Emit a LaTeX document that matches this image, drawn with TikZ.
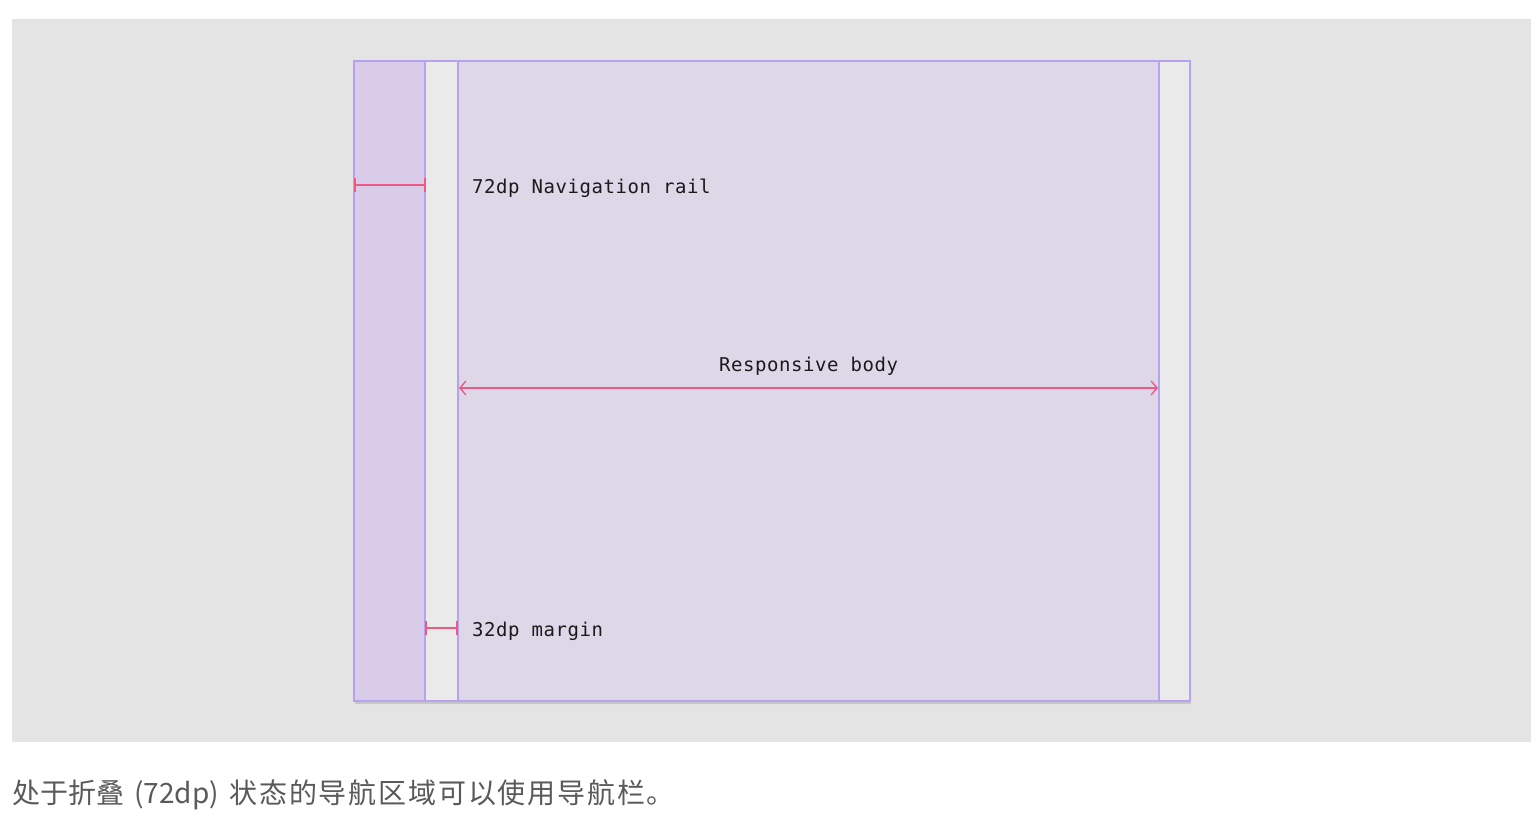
\documentclass[tikz,border=0pt]{standalone}
\usepackage{fontspec}
\usetikzlibrary{arrows.meta}
\newfontfamily\monofnt{DejaVu Sans Mono}[LetterSpace=3]
\newfontfamily\cjkfnt{Noto Sans CJK SC}
\newfontfamily\cjkwide{Noto Sans CJK SC}[LetterSpace=6.5]
\definecolor{panel}{HTML}{E4E4E4}
\definecolor{railc}{HTML}{D8CCE9}
\definecolor{bodyc}{HTML}{DED7E8}
\definecolor{marginc}{HTML}{EAEAEA}
\definecolor{linec}{HTML}{B7A2F0}
\definecolor{pinkc}{HTML}{EC5A86}
\definecolor{txt}{HTML}{1A1A1A}
\definecolor{captc}{HTML}{5A5A5A}
\tikzset{
  dim/.style={draw=pinkc, line width=1.6pt},
  lbl/.style={font=\monofnt\fontsize{19}{21}\selectfont, text=txt, inner sep=0pt},
  guide/.style={draw=linec, line width=1.3pt}
}
\begin{document}
\begin{tikzpicture}[x=1pt,y=-1pt]
\useasboundingbox[fill=white] (0,0) rectangle (1536,818);
\fill[panel] (12,19) rectangle (1531,742);
% shadow
\fill[black!22] (355,701) rectangle (1191,703.5);
\fill[black!11] (355,703.5) rectangle (1191,706);
% regions
\fill[railc] (354,61) rectangle (425,701);
\fill[marginc] (425,61) rectangle (458,701);
\fill[bodyc] (458,61) rectangle (1159,701);
\fill[marginc] (1159,61) rectangle (1190,701);
\draw[guide] (425,61) -- (425,701);
\draw[guide] (458,61) -- (458,701);
\draw[guide] (1159,61) -- (1159,701);
\draw[guide] (354,61) rectangle (1190,701);
% nav rail dimension
\coordinate (ra) at (355,185);
\coordinate (rb) at (425,185);
\draw[dim] (ra) -- (rb);
\draw[dim] ([yshift=-7]ra) -- ([yshift=7]ra);
\draw[dim] ([yshift=-7]rb) -- ([yshift=7]rb);
\node[lbl, anchor=west] (navl) at (472,188) {72dp Navigation rail};
% responsive body
\coordinate (ba) at (459,388);
\coordinate (bb) at (1158,388);
\draw[dim, line width=1.4pt, {Straight Barb[length=6pt,width=14pt]}-{Straight Barb[length=6pt,width=14pt]}] (ba) -- (bb);
\node[lbl] (bodyl) at (808.5,366) {Responsive body};
% margin dimension
\coordinate (ma) at (426,628);
\coordinate (mb) at (457,628);
\draw[dim] (ma) -- (mb);
\draw[dim] ([yshift=-7]ma) -- ([yshift=7]ma);
\draw[dim] ([yshift=-7]mb) -- ([yshift=7]mb);
\node[lbl, anchor=west] (marl) at (472,631) {32dp margin};
% caption
\node[anchor=west, inner sep=0pt, text=captc, font=\cjkfnt\fontsize{28}{32}\selectfont] (cap) at (12,795) {处于折叠\hspace{4pt} (72dp)\hspace{4pt} {\cjkwide\fontsize{28}{32}\selectfont 状态的导航区域可以使用导航栏。}};
\end{tikzpicture}
\end{document}
